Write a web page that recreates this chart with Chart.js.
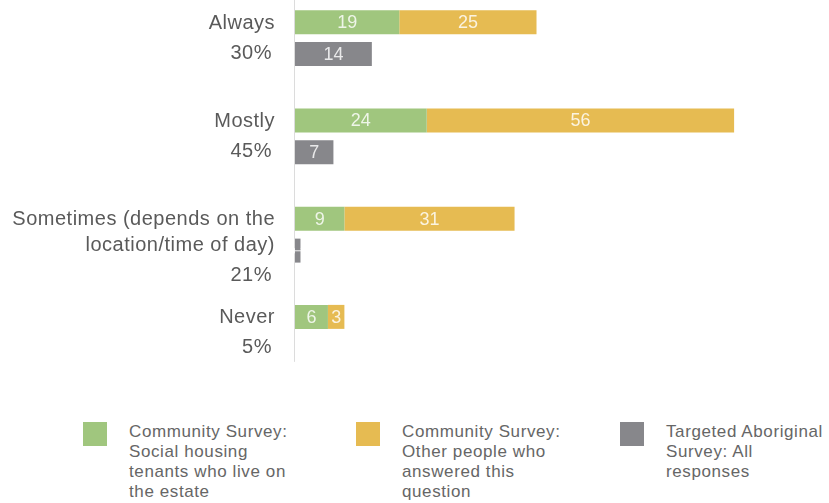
<!DOCTYPE html>
<html><head><meta charset="utf-8">
<script src="https://cdn.jsdelivr.net/npm/chart.js@4/dist/chart.umd.min.js"></script>
<style>
html,body{margin:0;padding:0;background:#fff;width:829px;height:503px;overflow:hidden;position:relative;font-family:"Liberation Sans",Arial,sans-serif}
#wrap{position:absolute;left:0;top:-11px;width:829px;height:393px}
.lg{position:absolute;top:422px;}
.sw{position:absolute;left:0;top:0;width:24px;height:24px}
.tx{position:absolute;top:0;font-size:17px;letter-spacing:0.6px;line-height:20px;color:#666;white-space:nowrap}
</style></head><body>
<div id="wrap"><canvas id="c" width="829" height="393"></canvas></div>
<div id="legend"></div>
<script>
const categories = ["Always", "Mostly", "Sometimes", "Never"];
const categoryNameLines = [["Always"], ["Mostly"], ["Sometimes (depends on the", "location/time of day)"], ["Never"]];
const percentLabels = ["30%", "45%", "21%", "5%"];
const socialHousingTenants = [19, 24, 9, 6];
const otherPeople = [25, 56, 31, 3];
const aboriginalSurvey = [14, 7, 1, 0];
const seriesNameLines = [
  ["Community Survey:", "Social housing", "tenants who live on", "the estate"],
  ["Community Survey:", "Other people who", "answered this", "question"],
  ["Targeted Aboriginal", "Survey: All", "responses"]
];
const seriesColors = ["#a0c67e", "#e6bb52", "#87878b"];

const legendLeft = [83, 356, 620];
const legendEl = document.getElementById('legend');
seriesNameLines.forEach((lines, i) => {
  const d = document.createElement('div');
  d.className = 'lg';
  d.style.left = legendLeft[i] + 'px';
  const sw = document.createElement('div');
  sw.className = 'sw'; sw.style.background = seriesColors[i];
  const tx = document.createElement('div');
  tx.className = 'tx'; tx.style.left = '46px';
  tx.innerHTML = lines.join('<br>');
  d.appendChild(sw); d.appendChild(tx);
  legendEl.appendChild(d);
});

const labelPlugin = {
  id: 'labels',
  beforeDatasetsDraw(chart) {
    const ctx = chart.ctx;
    const x0 = chart.scales.x.getPixelForValue(0);
    const last = chart.getDatasetMeta(2).data[categories.length - 1];
    ctx.save();
    ctx.strokeStyle = '#dcdcdc';
    ctx.lineWidth = 1;
    ctx.beginPath();
    ctx.moveTo(x0 - 0.5, 0);
    ctx.lineTo(x0 - 0.5, last.y + last.height / 2 + 1);
    ctx.stroke();
    ctx.restore();
  },
  afterDatasetsDraw(chart) {
    const ctx = chart.ctx;
    ctx.save();
    chart.data.datasets.forEach((ds, di) => {
      const meta = chart.getDatasetMeta(di);
      meta.data.forEach((bar, i) => {
        const v = ds.data[i];
        if (!v) return;
        const w = Math.abs(bar.x - bar.base);
        const cx = (bar.x + bar.base) / 2;
        ctx.fillStyle = 'rgba(255,255,255,0.82)';
        ctx.textAlign = 'center';
        ctx.textBaseline = 'middle';
        if (w < 12) {
          ctx.font = '12px "Liberation Sans", Arial, sans-serif';
          ctx.save();
          ctx.translate(cx, bar.y);
          ctx.rotate(Math.PI / 2);
          ctx.fillText(String(v), 0, 0);
          ctx.restore();
        } else {
          ctx.font = '18px "Liberation Sans", Arial, sans-serif';
          ctx.fillText(String(v), cx, bar.y + 1);
        }
      });
    });
    const xr = chart.chartArea.left - 20;
    ctx.fillStyle = '#5a5a5a';
    ctx.font = '20px "Liberation Sans", Arial, sans-serif';
    ctx.letterSpacing = '0.5px';
    ctx.textAlign = 'right';
    ctx.textBaseline = 'middle';
    const meta0 = chart.getDatasetMeta(0);
    categories.forEach((c, i) => {
      const y0 = meta0.data[i].y + 1;
      const lines = categoryNameLines[i];
      lines.forEach((ln, k) => ctx.fillText(ln, xr, y0 + k * 26));
      ctx.fillText(percentLabels[i], xr - 3, y0 + (lines.length - 1) * 26 + 30);
    });
    ctx.restore();
  }
};

new Chart(document.getElementById('c'), {
  type: 'bar',
  data: {
    labels: categories,
    datasets: [
      { label: seriesNameLines[0].join(' '), data: socialHousingTenants, backgroundColor: seriesColors[0], stack: 'community' },
      { label: seriesNameLines[1].join(' '), data: otherPeople, backgroundColor: seriesColors[1], stack: 'community' },
      { label: seriesNameLines[2].join(' '), data: aboriginalSurvey, backgroundColor: seriesColors[2], stack: 'aboriginal' }
    ]
  },
  options: {
    indexAxis: 'y',
    responsive: false,
    animation: false,
    categoryPercentage: 0.651,
    barPercentage: 0.75,
    layout: { padding: { left: 295, right: 40, top: 0, bottom: 0 } },
    plugins: { legend: { display: false }, tooltip: { enabled: false } },
    scales: {
      x: { display: false, min: 0, max: 90, stacked: true },
      y: { display: false, stacked: true }
    }
  },
  plugins: [labelPlugin]
});
</script>
</body></html>
